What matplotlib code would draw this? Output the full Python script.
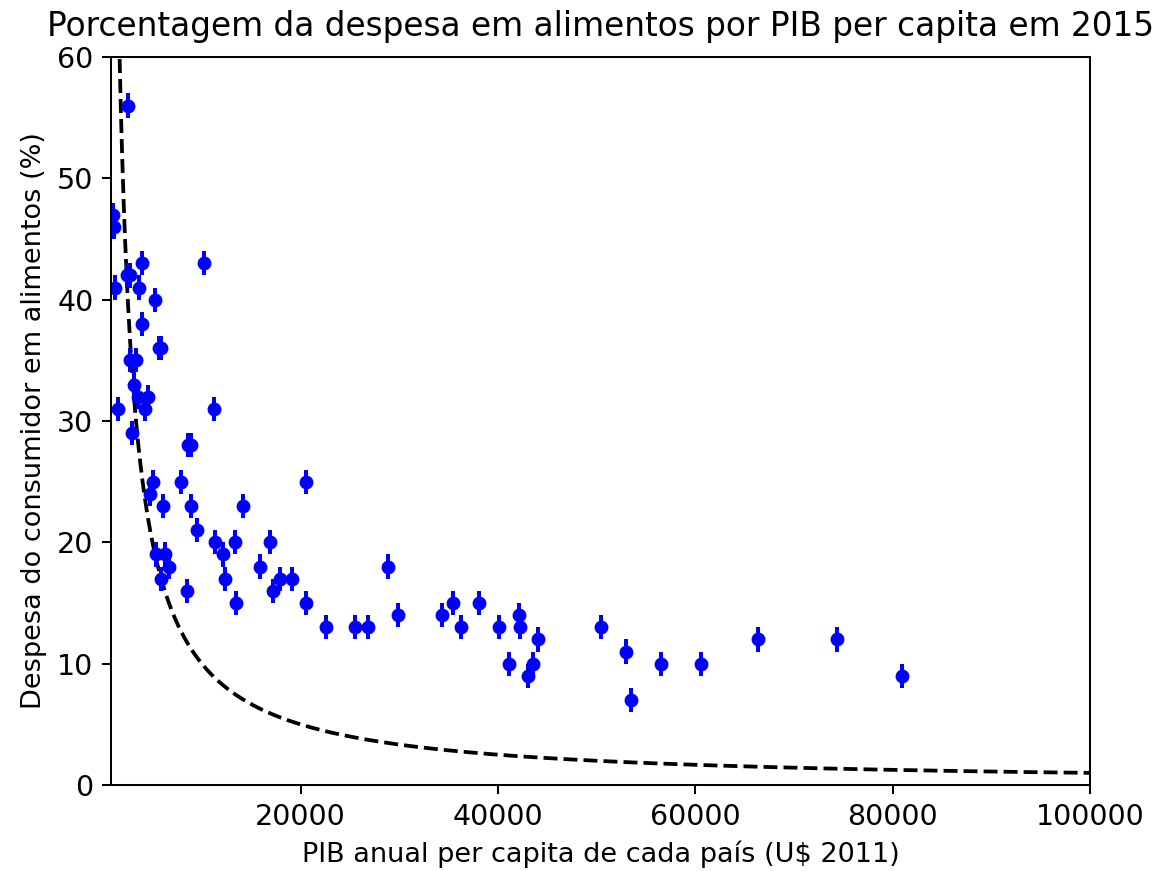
import numpy as np
import matplotlib
matplotlib.use("Agg")
import matplotlib.pyplot as plt

# PIB per capita (U$ 2011) e despesa em alimentos (%)
pib = [1050, 1100, 1220, 1500, 2510, 2400, 2700, 2740, 2910, 3080,
       3320, 3520, 3680, 3920, 3920, 4260, 4590, 4770, 5040, 5270,
       5370, 5700, 5850, 5850, 6110, 6280, 6720, 7870, 8480, 8600,
       8920, 8880, 9550, 10260, 11270, 11350, 12120, 12360, 13370, 13470,
       14150, 15900, 16910, 17240, 17920, 19100, 20550, 20550, 22550, 25510,
       26860, 28880, 29890, 34290, 35460, 36310, 38090, 40120, 41130, 42110,
       42280, 43050, 43560, 44060, 50480, 52940, 53510, 56480, 60530, 66330,
       74360, 80900]
despesa = [47, 46, 41, 31, 56, 42, 42, 35, 29, 33,
           35, 32, 41, 43, 38, 31, 32, 24, 25, 40,
           19, 36, 36, 17, 23, 19, 18, 25, 16, 28,
           28, 23, 21, 43, 31, 20, 19, 17, 20, 15,
           23, 18, 20, 16, 17, 17, 25, 15, 13, 13,
           13, 18, 14, 14, 15, 13, 15, 13, 10, 14,
           13, 9, 10, 12, 13, 11, 7, 10, 10, 12,
           12, 9]
erro = 1
k_curva = 100000  # y = k / x

fig = plt.figure(figsize=(1160 / 181.25, 871 / 181.25), dpi=181.25)
ax = fig.add_subplot(111)
fig.subplots_adjust(left=0.0957, right=0.9397, top=0.9346, bottom=0.0987)

xc = np.linspace(800, 100000, 2000)
ax.plot(xc, k_curva / xc, "k--", lw=1.5)
ax.errorbar(pib, despesa, yerr=erro, fmt="bo", markersize=4.5, elinewidth=1.6)

ax.set_xlim(800, 100000)
ax.set_ylim(0, 60)
ax.set_xticks([20000, 40000, 60000, 80000, 100000])
ax.tick_params(labelsize=11.3)
ax.set_title("Porcentagem da despesa em alimentos por PIB per capita em 2015",
             fontsize=13, pad=8.5)
ax.set_xlabel("PIB anual per capita de cada país (U$ 2011)", fontsize=10.8)
ax.set_ylabel("Despesa do consumidor em alimentos (%)", fontsize=10.8)

fig.savefig("out.png", dpi=181.25)
